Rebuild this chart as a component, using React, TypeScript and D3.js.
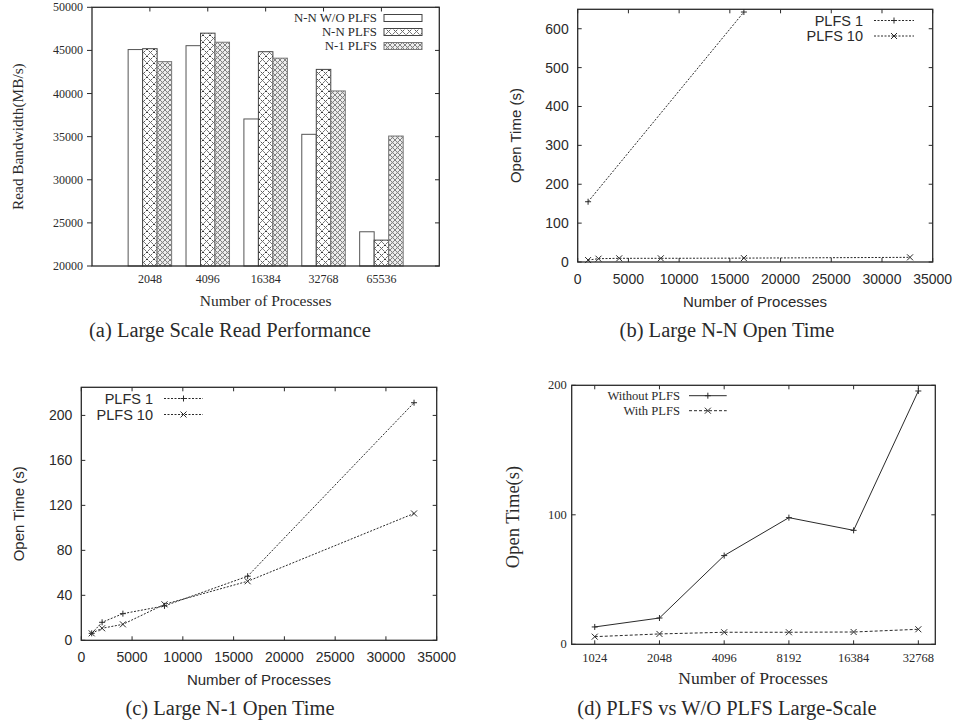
import React, { useEffect, useRef } from "react";
import * as d3 from "d3";

// (a) read bandwidth
const readCategories = ["2048", "4096", "16384", "32768", "65536"];
const nnWithoutPlfs = [45100, 45550, 37050, 35270, 23970];
const nnPlfs = [45200, 47000, 44850, 42800, 23000];
const n1Plfs = [43700, 45950, 44100, 40300, 35070];
const readTicks = [20000, 25000, 30000, 35000, 40000, 45000, 50000];

// (b) N-N open time
const nnProcs1 = [1024, 16384];
const nnOpen1 = [155, 643];
const nnProcs10 = [1024, 2048, 4096, 8192, 16384, 32768];
const nnOpen10 = [5, 8.5, 9.5, 9.5, 10, 12];

// (c) N-1 open time
const n1Procs = [1024, 2048, 4096, 8192, 16384, 32768];
const n1Open1 = [6.2, 16, 23.7, 30.6, 57, 211.3];
const n1Open10 = [6.2, 10.7, 14.2, 32, 52.5, 112.8];

// (d) PLFS vs W/O PLFS
const dProcs = [1024, 2048, 4096, 8192, 16384, 32768];
const withoutPlfs = [13.4, 20.3, 68.5, 97.8, 88, 195.6];
const withPlfs = [5.9, 8, 9.3, 9.3, 9.5, 11.6];

const SERIF = "'Liberation Serif', 'Times New Roman', serif";
const SANS = "'Liberation Sans', Arial, sans-serif";
const INK = "#2a2a2a";

const App = () => {
  const svgRef = useRef();

  useEffect(() => {
    const svg = d3.select(svgRef.current);
    svg.selectAll("*").remove();

    // patterns
    const defs = svg.append("defs");
    const p1 = defs
      .append("pattern")
      .attr("id", "nnPat")
      .attr("patternUnits", "userSpaceOnUse")
      .attr("width", 7)
      .attr("height", 7);
    p1.append("rect").attr("width", 7).attr("height", 7).attr("fill", "#fff");
    p1.append("path")
      .attr("d", "M0,0L7,7M7,0L0,7")
      .attr("stroke", "#333")
      .attr("stroke-width", 1)
      .attr("stroke-dasharray", "1.5,1");
    const p2 = defs
      .append("pattern")
      .attr("id", "n1Pat")
      .attr("patternUnits", "userSpaceOnUse")
      .attr("width", 5)
      .attr("height", 5);
    p2.append("rect").attr("width", 5).attr("height", 5).attr("fill", "#eee");
    p2.append("path")
      .attr("d", "M0,0L5,5M5,0L0,5")
      .attr("stroke", "#666")
      .attr("stroke-width", 0.8);
    p2.append("circle").attr("cx", 2.5).attr("cy", 2.5).attr("r", 0.8).attr("fill", "#888");

    const frame = (g, x0, x1, y0, y1) =>
      g
        .append("rect")
        .attr("x", x0)
        .attr("y", y0)
        .attr("width", x1 - x0)
        .attr("height", y1 - y0)
        .attr("fill", "none")
        .attr("stroke", INK)
        .attr("stroke-width", 1.3);

    const text = (g, x, y, s, font, size, anchor = "middle", rotate = false) => {
      const t = g
        .append("text")
        .attr("font-family", font)
        .attr("font-size", size)
        .attr("fill", INK)
        .attr("text-anchor", anchor)
        .attr("dominant-baseline", "central")
        .text(s);
      if (rotate) t.attr("transform", `translate(${x},${y}) rotate(-90)`);
      else t.attr("x", x).attr("y", y);
      return t;
    };

    const tickLine = (g, x1, y1, x2, y2) =>
      g
        .append("line")
        .attr("x1", x1)
        .attr("y1", y1)
        .attr("x2", x2)
        .attr("y2", y2)
        .attr("stroke", INK)
        .attr("stroke-width", 1);

    const marker = (g, x, y, kind, s = 3) => {
      const d =
        kind === "plus"
          ? `M${x - s},${y}L${x + s},${y}M${x},${y - s}L${x},${y + s}`
          : `M${x - s},${y - s}L${x + s},${y + s}M${x + s},${y - s}L${x - s},${y + s}`;
      g.append("path").attr("d", d).attr("stroke", INK).attr("stroke-width", 1).attr("fill", "none");
    };

    const series = (g, xs, ys, x, y, kind, dash) => {
      const pts = xs.map((v, i) => [x(v), y(ys[i])]);
      g.append("path")
        .attr("d", d3.line()(pts))
        .attr("fill", "none")
        .attr("stroke", INK)
        .attr("stroke-width", 1)
        .attr("stroke-dasharray", dash);
      pts.forEach(([px, py]) => marker(g, px, py, kind));
    };

    const legendRow = (g, xText, xl0, xl1, y, label, kind, dash, font, size) => {
      text(g, xText, y, label, font, size, "end");
      g.append("line")
        .attr("x1", xl0)
        .attr("x2", xl1)
        .attr("y1", y)
        .attr("y2", y)
        .attr("stroke", INK)
        .attr("stroke-width", 1)
        .attr("stroke-dasharray", dash);
      marker(g, (xl0 + xl1) / 2, y, kind);
    };

    // ---------- (a) ----------
    {
      const g = svg.append("g");
      const x = d3.scaleLinear().domain([0, 6]).range([92, 439.3]);
      const y = d3.scaleLinear().domain([20000, 50000]).range([266, 7.3]);
      const bw = 14.5;
      const groups = [
        { vals: nnWithoutPlfs, fill: "#fff", stroke: "#555", off: -1 },
        { vals: nnPlfs, fill: "url(#nnPat)", stroke: "#444", off: 0 },
        { vals: n1Plfs, fill: "url(#n1Pat)", stroke: "#777", off: 1 },
      ];
      groups.forEach((s) => {
        g.selectAll(null)
          .data(s.vals)
          .join("rect")
          .attr("x", (d, i) => x(i + 1) + s.off * bw - bw / 2)
          .attr("width", bw)
          .attr("y", (d) => y(d))
          .attr("height", (d) => y(20000) - y(d))
          .attr("fill", s.fill)
          .attr("stroke", s.stroke)
          .attr("stroke-width", 1);
      });
      frame(g, 92, 439.3, 7.3, 266);
      readTicks.forEach((t) => {
        tickLine(g, 87, y(t), 92, y(t));
        tickLine(g, 435, y(t), 439.3, y(t));
        text(g, 83, y(t), String(t), SERIF, 12, "end");
      });
      readCategories.forEach((c, i) => {
        tickLine(g, x(i + 1), 7.3, x(i + 1), 11.5);
        text(g, x(i + 1), 279, c, SERIF, 12);
      });
      text(g, 265.6, 300, "Number of Processes", SERIF, 15.5);
      text(g, 17, 136.6, "Read Bandwidth(MB/s)", SERIF, 15.3, "middle", true);
      const leg = [
        ["N-N W/O PLFS", "#fff", "#444"],
        ["N-N PLFS", "url(#nnPat)", "#444"],
        ["N-1 PLFS", "url(#n1Pat)", "#777"],
      ];
      leg.forEach(([label, fill, stroke], i) => {
        const ly = 18 + i * 14;
        text(g, 377, ly, label, SERIF, 12.8, "end");
        g.append("rect")
          .attr("x", 384)
          .attr("y", ly - 3.5)
          .attr("width", 38)
          .attr("height", 7)
          .attr("fill", fill)
          .attr("stroke", stroke)
          .attr("stroke-width", 1);
      });
      text(g, 230, 330, "(a) Large Scale Read Performance", SERIF, 20.5);
    }

    // ---------- (b) ----------
    {
      const g = svg.append("g");
      const L = 577.7, R = 932.7, T = 9.3, B = 262;
      const x = d3.scaleLinear().domain([0, 35000]).range([L, R]);
      const y = d3.scaleLinear().domain([0, 650]).range([B, T]);
      frame(g, L, R, T, B);
      d3.range(0, 601, 100).forEach((t) => {
        tickLine(g, L, y(t), L + 4, y(t));
        tickLine(g, R - 4, y(t), R, y(t));
        text(g, L - 9, y(t), String(t), SANS, 14, "end");
      });
      d3.range(0, 35001, 5000).forEach((t) => {
        tickLine(g, x(t), B, x(t), B - 4);
        tickLine(g, x(t), T, x(t), T + 4);
        text(g, x(t), 278.5, String(t), SANS, 14);
      });
      series(g, nnProcs1, nnOpen1, x, y, "plus", "2,1.5");
      series(g, nnProcs10, nnOpen10, x, y, "cross", "2,1.5");
      legendRow(g, 863, 874, 914, 20.5, "PLFS 1", "plus", "2,1.5", SANS, 14.5);
      legendRow(g, 863, 874, 914, 36, "PLFS 10", "cross", "2,1.5", SANS, 14.5);
      text(g, 755, 301, "Number of Processes", SANS, 15);
      text(g, 515.7, 135.6, "Open Time (s)", SANS, 15, "middle", true);
      text(g, 727, 330, "(b) Large N-N Open Time", SERIF, 20.5);
    }

    // ---------- (c) ----------
    {
      const g = svg.append("g");
      const L = 81.3, R = 436.7, T = 387.3, B = 640.3;
      const x = d3.scaleLinear().domain([0, 35000]).range([L, R]);
      const y = d3.scaleLinear().domain([0, 225]).range([B, T]);
      frame(g, L, R, T, B);
      d3.range(0, 201, 40).forEach((t) => {
        tickLine(g, L, y(t), L + 4, y(t));
        tickLine(g, R - 4, y(t), R, y(t));
        text(g, L - 9, y(t), String(t), SANS, 14, "end");
      });
      d3.range(0, 35001, 5000).forEach((t) => {
        tickLine(g, x(t), B, x(t), B - 4);
        tickLine(g, x(t), T, x(t), T + 4);
        text(g, x(t), 656.5, String(t), SANS, 14);
      });
      series(g, n1Procs, n1Open1, x, y, "plus", "2,1.5");
      series(g, n1Procs, n1Open10, x, y, "cross", "2,1.5");
      legendRow(g, 153, 164, 203, 398.5, "PLFS 1", "plus", "2,1.5", SANS, 14.5);
      legendRow(g, 153, 164, 203, 414.5, "PLFS 10", "cross", "2,1.5", SANS, 14.5);
      text(g, 259, 679, "Number of Processes", SANS, 15);
      text(g, 18, 513.8, "Open Time (s)", SANS, 15, "middle", true);
      text(g, 230, 708, "(c) Large N-1 Open Time", SERIF, 20.5);
    }

    // ---------- (d) ----------
    {
      const g = svg.append("g");
      const L = 571.7, R = 935.3, T = 385.3, B = 644.3;
      const x = d3.scaleLog().base(2).domain([800, 39300]).range([L, R]);
      const y = d3.scaleLinear().domain([0, 200]).range([B, T]);
      frame(g, L, R, T, B);
      [0, 100, 200].forEach((t) => {
        tickLine(g, L, y(t), L + 4, y(t));
        tickLine(g, R - 4, y(t), R, y(t));
        text(g, L - 5, y(t), String(t), SERIF, 12.5, "end");
      });
      dProcs.forEach((t) => {
        tickLine(g, x(t), B, x(t), B - 4);
        tickLine(g, x(t), T, x(t), T + 4);
        text(g, x(t), 658, String(t), SERIF, 12.5);
      });
      series(g, dProcs, withoutPlfs, x, y, "plus", null);
      series(g, dProcs, withPlfs, x, y, "cross", "3,2");
      legendRow(g, 680, 689, 726.7, 395.7, "Without PLFS", "plus", null, SERIF, 12.6);
      legendRow(g, 680, 689, 726.7, 410.7, "With PLFS", "cross", "3,2", SERIF, 12.6);
      text(g, 753, 678, "Number of Processes", SERIF, 17.6);
      text(g, 513, 517, "Open Time(s)", SERIF, 18.5, "middle", true);
      text(g, 727, 708, "(d) PLFS vs W/O PLFS Large-Scale", SERIF, 20.5);
    }
  });

  return (
    <svg
      ref={svgRef}
      width={956}
      height={723}
      style={{ position: "absolute", left: 0, top: 0, background: "#fff" }}
    />
  );
};

export default App;
